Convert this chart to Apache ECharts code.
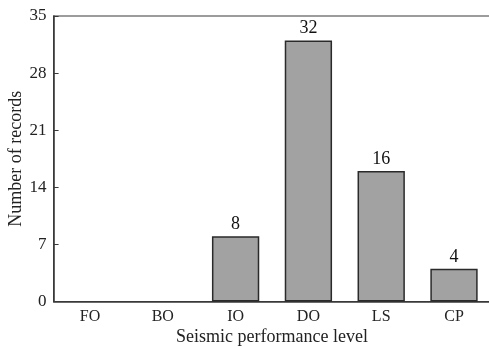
<!DOCTYPE html>
<html>
<head>
<meta charset="utf-8">
<script src="https://cdn.jsdelivr.net/npm/echarts@6/dist/echarts.min.js"></script>
<style>
  html, body { margin: 0; padding: 0; background: #fff; }
  #chart { width: 489px; height: 347px; }
</style>
</head>
<body>
<div id="chart"></div>
<script>
// Performance levels and how many records fall into each
const categories = ['FO', 'BO', 'IO', 'DO', 'LS', 'CP'];
const recordCounts = [0, 0, 8, 32, 16, 4];
const yTicks = { min: 0, max: 35, interval: 7 };

const font = 'Liberation Serif, Times New Roman, serif';
const axisColor = '#3a3a3a';

// Empty categories get no outline so nothing is drawn on the baseline
const barData = recordCounts.map(v => ({
  value: v,
  itemStyle: v > 0 ? {} : { borderWidth: 0, opacity: 0 }
}));

const chart = echarts.init(document.getElementById('chart'), null, { renderer: 'canvas' });
chart.setOption({
  animation: false,
  backgroundColor: '#fff',
  grid: {
    left: 53.6, top: 16, width: 436.8, height: 285.5,
    outerBoundsMode: 'none',
    containLabel: false,
    show: true, borderColor: axisColor, borderWidth: 1.2, backgroundColor: 'transparent'
  },
  xAxis: {
    type: 'category',
    data: categories,
    name: 'Seismic performance level',
    nameLocation: 'middle',
    nameGap: 27,
    nameMoveOverlap: false,
    nameTextStyle: { fontFamily: font, fontSize: 18, color: '#222' },
    axisLine: { lineStyle: { color: axisColor, width: 1.5 } },
    axisTick: { inside: true, alignWithLabel: true, length: 5, lineStyle: { color: axisColor } },
    axisLabel: { fontFamily: font, fontSize: 16, color: '#222', margin: 7 },
    splitLine: { show: false }
  },
  yAxis: {
    type: 'value',
    min: yTicks.min, max: yTicks.max, interval: yTicks.interval,
    name: 'Number of records',
    nameLocation: 'middle',
    nameGap: 28,
    nameMoveOverlap: false,
    nameTextStyle: { fontFamily: font, fontSize: 18, color: '#222' },
    axisLine: { show: true, lineStyle: { color: axisColor, width: 1.5 } },
    axisTick: { show: true, inside: true, length: 5, lineStyle: { color: axisColor } },
    axisLabel: { fontFamily: font, fontSize: 17, color: '#222', margin: 7 },
    splitLine: { show: false }
  },
  series: [{
    type: 'bar',
    data: barData,
    barCategoryGap: '35%',
    itemStyle: {
      color: '#a2a2a2',
      borderColor: '#2a2a2a',
      borderWidth: 1.5
    },
    label: {
      show: true,
      position: 'top',
      distance: 3,
      fontFamily: font,
      fontSize: 18,
      color: '#111',
      formatter: p => (p.value > 0 ? String(p.value) : '')
    }
  }]
});
</script>
</body>
</html>
